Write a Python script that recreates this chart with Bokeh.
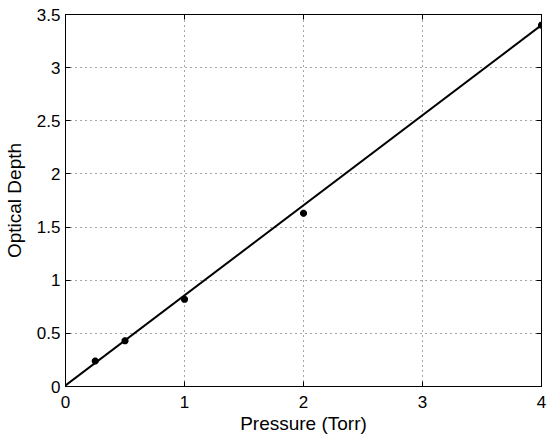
from bokeh.plotting import figure
from bokeh.models import LinearAxis, Range1d, FixedTicker, CustomJSTickFormatter
from bokeh.embed import file_html
from bokeh.resources import INLINE

pressure = [0.25, 0.5, 1.0, 2.0, 4.0]
depth = [0.24, 0.43, 0.82, 1.63, 3.40]
fit_x = [0.0, 4.0]
fit_y = [0.01, 3.40]
x_ticks = [0, 1, 2, 3, 4]
y_ticks = [0, 0.5, 1, 1.5, 2, 2.5, 3, 3.5]

FONT = "Liberation Sans"

p = figure(width=550, height=440, output_backend="svg", toolbar_location=None,
           x_range=Range1d(0, 4), y_range=Range1d(0, 3.5),
           min_border_left=64, min_border_right=9, min_border_top=14, min_border_bottom=54)
p.outline_line_color = "black"
p.outline_line_width = 1
p.background_fill_color = "white"
p.border_fill_color = "white"

for ax in (p.xaxis[0], p.yaxis[0]):
    ax.major_tick_in = 5
    ax.major_tick_out = 0
    ax.minor_tick_in = 0
    ax.minor_tick_out = 0
    ax.axis_line_color = "black"
    ax.major_tick_line_color = "black"
    ax.major_label_text_font = FONT
    ax.major_label_text_font_size = "17px"
    ax.major_label_text_color = "black"
    ax.axis_label_text_font = FONT
    ax.axis_label_text_font_size = "19px"
    ax.axis_label_text_font_style = "normal"
    ax.axis_label_text_color = "black"

p.xaxis.ticker = FixedTicker(ticks=x_ticks)
p.yaxis.ticker = FixedTicker(ticks=y_ticks)
p.xaxis.major_label_standoff = 9
p.yaxis.major_label_standoff = 5
p.xaxis.axis_label = "Pressure (Torr)"
p.yaxis.axis_label = "Optical Depth"
p.xaxis.axis_label_standoff = 2
p.yaxis.axis_label_standoff = 9

for loc, tk in (("above", x_ticks), ("right", y_ticks)):
    a = LinearAxis(ticker=FixedTicker(ticks=tk),
                   formatter=CustomJSTickFormatter(code="return ''"))
    a.major_tick_in = 5
    a.major_tick_out = 0
    a.minor_tick_in = 0
    a.minor_tick_out = 0
    a.major_label_standoff = 0
    a.axis_line_color = "black"
    p.add_layout(a, loc)

p.xgrid.ticker = FixedTicker(ticks=x_ticks)
p.ygrid.ticker = FixedTicker(ticks=y_ticks)
p.grid.grid_line_color = "black"
p.grid.grid_line_alpha = 0.7
p.grid.grid_line_dash = "1 4"
p.grid.grid_line_width = 1

p.line(fit_x, fit_y, line_color="black", line_width=2)
p.scatter(pressure, depth, marker="asterisk", size=7, line_color="black", line_width=2.5)

open("out.html", "w").write(file_html(p, INLINE))
